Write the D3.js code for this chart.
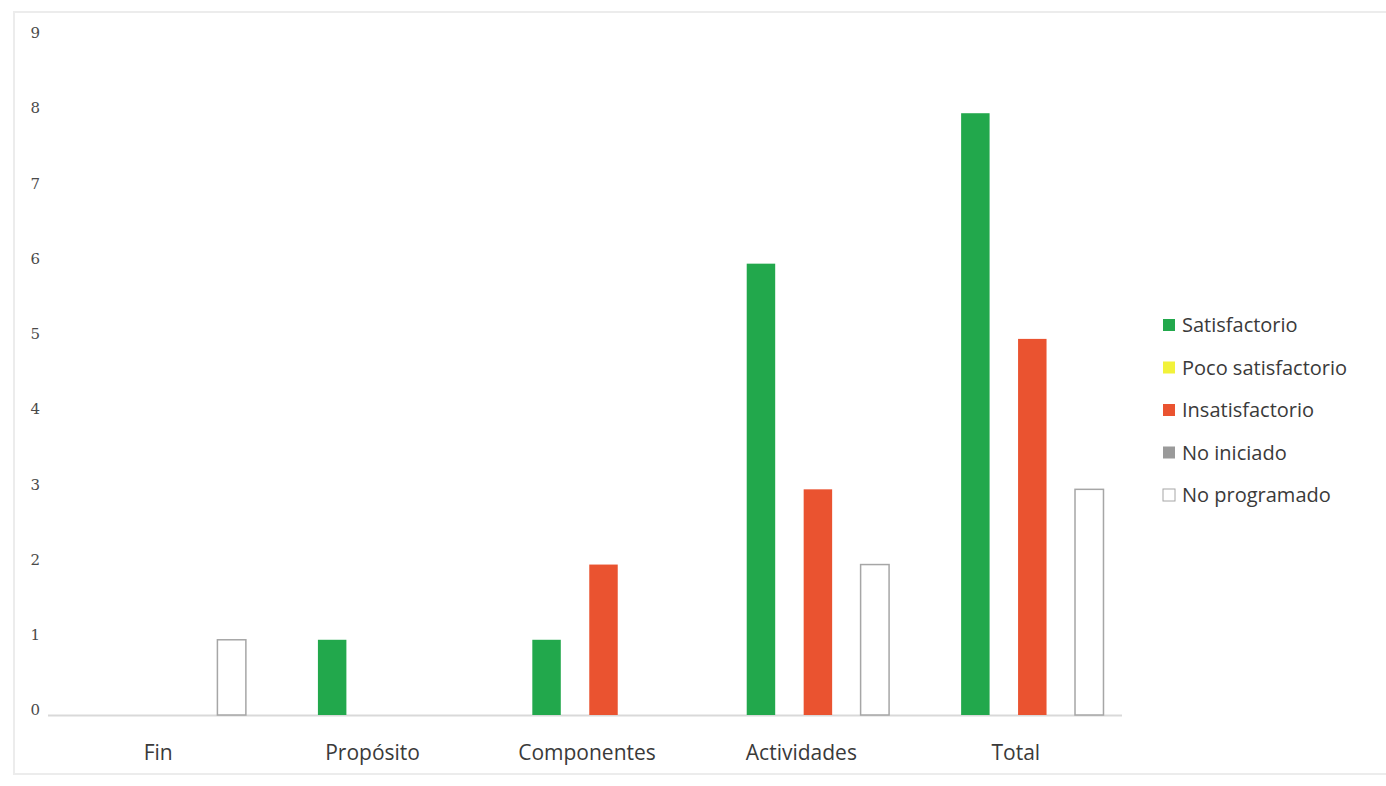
<!DOCTYPE html>
<html>
<head>
<meta charset="utf-8">
<script src="https://cdn.jsdelivr.net/npm/d3@7"></script>
<style>
  body { margin: 0; background: #fff; }
</style>
</head>
<body>
<div class="chart_holder"></div>
<script>
// categories and series
var categories = ['Fin', 'Propósito', 'Componentes', 'Actividades', 'Total'];
var seriesNames = ['Satisfactorio', 'Poco satisfactorio', 'Insatisfactorio', 'No iniciado', 'No programado'];
var seriesColors = ['#22a84c', '#f2f23a', '#ea5330', '#9a9a9a', '#ffffff'];

var satisfactorio      = [0, 1, 1, 6, 8];
var pocoSatisfactorio  = [0, 0, 0, 0, 0];
var insatisfactorio    = [0, 0, 2, 3, 5];
var noIniciado         = [0, 0, 0, 0, 0];
var noProgramado       = [1, 0, 0, 2, 3];

var yTicks = [0, 1, 2, 3, 4, 5, 6, 7, 8, 9];

var seriesValues = [satisfactorio, pocoSatisfactorio, insatisfactorio, noIniciado, noProgramado];

var width = 1386, height = 786;

var svg = d3.select(".chart_holder").append("svg")
  .attr("width", width).attr("height", height);

// faint paper border of the scanned chart
svg.append("rect")
  .attr("x", 14).attr("y", 12).attr("width", 1400).attr("height", 762)
  .style("fill", "none").style("stroke", "#ececec").style("stroke-width", 2);

var y = d3.scaleLinear().domain([0, 9]).range([715, 38]);

var x0 = d3.scaleBand().domain(categories).range([67, 1139])
  .paddingInner(0.336).paddingOuter(0.168);

var x1 = d3.scaleBand().domain(seriesNames).range([0, x0.bandwidth()]).padding(0);

// y tick labels (no axis line, no gridlines)
svg.append("g").selectAll("text")
  .data(yTicks).enter().append("text")
  .attr("x", 40)
  .attr("y", function(d){ return y(d) - 5; })
  .attr("dy", "0.35em")
  .style("text-anchor", "end")
  .style("font-family", "'DejaVu Serif', serif")
  .style("font-size", "15px")
  .style("fill", "#4a4a4a")
  .text(function(d){ return d; });

// baseline
svg.append("line")
  .attr("x1", 48).attr("x2", 1122)
  .attr("y1", y(0) + 0.5).attr("y2", y(0) + 0.5)
  .style("stroke", "#d9d9d9").style("stroke-width", 2);

// bars
var bars = [];
categories.forEach(function(c, i){
  seriesNames.forEach(function(s, j){
    if (seriesValues[j][i] > 0) bars.push({cat: c, series: s, idx: j, value: seriesValues[j][i]});
  });
});

svg.append("g").selectAll("rect")
  .data(bars).enter().append("rect")
  .attr("x", function(d){ return x0(d.cat) + x1(d.series) + 0.5; })
  .attr("y", function(d){ return y(d.value); })
  .attr("width", x1.bandwidth())
  .attr("height", function(d){ return y(0) - y(d.value); })
  .style("fill", function(d){ return seriesColors[d.idx]; })
  .style("stroke", function(d){ return d.idx == 4 ? '#a6a6a6' : 'none'; })
  .style("stroke-width", 1.5);

// category labels (sit a bit left of the group centre in the scan)
svg.append("g").selectAll("text")
  .data(categories).enter().append("text")
  .attr("x", function(d){ return x0(d) + x0.bandwidth() / 2 - 16; })
  .attr("y", 753)
  .attr("dy", "0.35em")
  .style("text-anchor", "middle")
  .style("font-family", "'Open Sans', sans-serif")
  .style("font-size", "21px")
  .style("fill", "#3a3a3a")
  .text(function(d){ return d; });

// legend
var legend = svg.append("g").selectAll("g")
  .data(seriesNames).enter().append("g")
  .attr("transform", function(d, i){ return "translate(1163," + (325 + i * 42.5) + ")"; });

legend.append("rect")
  .attr("x", 0).attr("y", -6)
  .attr("width", 12).attr("height", 12)
  .style("fill", function(d, i){ return seriesColors[i]; })
  .style("stroke", function(d, i){ return i == 4 ? '#a6a6a6' : 'none'; })
  .style("stroke-width", 1);

legend.append("text")
  .attr("x", 19).attr("y", 0)
  .attr("dy", "0.35em")
  .style("font-family", "'Open Sans', sans-serif")
  .style("font-size", "20px")
  .style("fill", "#3a3a3a")
  .text(function(d){ return d; });
</script>
</body>
</html>
